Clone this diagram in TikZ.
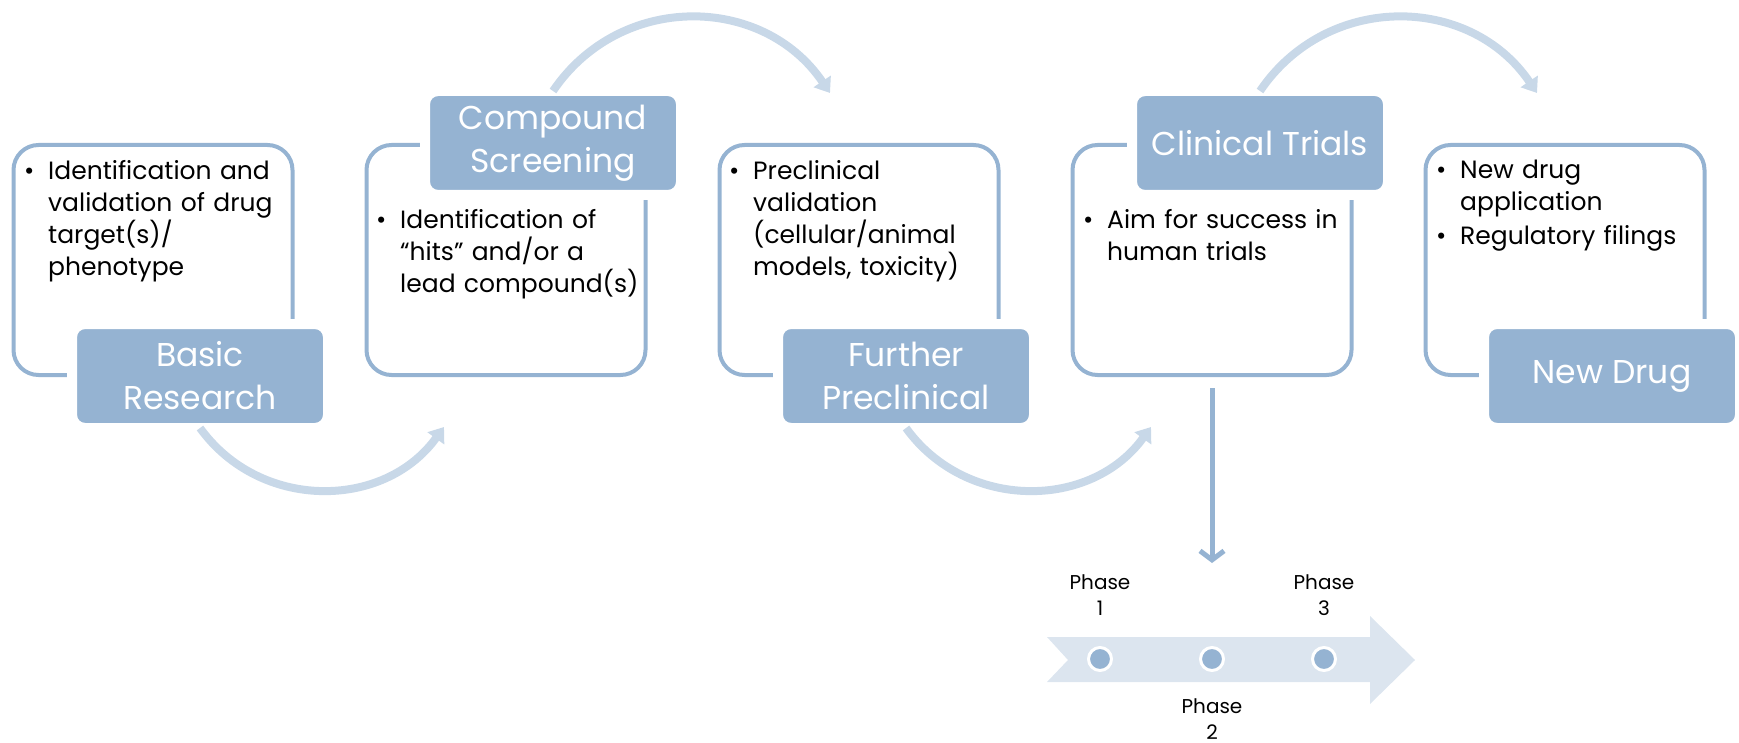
\documentclass[tikz,border=0pt]{standalone}
\usepackage{fontspec}
\setmainfont{Poppins}
\usetikzlibrary{arrows.meta,positioning}
\pgfdeclarelayer{bg}
\pgfsetlayers{bg,main}
\definecolor{stepblue}{HTML}{95B3D2}
\definecolor{flowblue}{HTML}{C8D8E8}
\definecolor{bandblue}{HTML}{DCE5EF}
\newcommand{\bitem}[1]{\noindent\makebox[24pt][l]{\textbullet}\parbox[t]{240pt}{\raggedright #1}}
\tikzset{
    card/.style={rectangle, draw=stepblue, line width=4pt, rounded corners=25pt,
        minimum width=279pt, minimum height=230pt}
}
\tikzset{
    tag/.style={rectangle, fill=stepblue, draw=white, line width=10pt, rounded corners=13pt,
        minimum width=256pt, minimum height=104pt, outer sep=0pt, text=white, align=center,
        font=\fontsize{33}{43}\selectfont}
}
\tikzset{
    notes/.style={anchor=north west, inner sep=0pt, text width=265pt, align=left,
        font=\fontsize{25}{32}\selectfont},
    flow/.style={draw=flowblue, line width=8pt, -{Triangle[width=20pt,length=14pt]}},
    phase/.style={circle, fill=stepblue, draw=white, line width=3pt, minimum size=23pt, inner sep=0pt},
    phaselbl/.style={align=center, inner sep=0pt, font=\fontsize{20}{26}\selectfont}
}

\begin{document}
\begin{tikzpicture}[x=1pt, y=-1pt]
        \useasboundingbox (0,0) rectangle (1739,743);
        \begin{pgfonlayer}{bg}
                \node[card] (c1) at (153,260) {};
                \node[card] (c2) at (506,260) {};
                \node[card] (c3) at (859,260) {};
                \node[card] (c4) at (1212,260) {};
                \node[card] (c5) at (1565,260) {};
                \fill[bandblue] (1047,637) -- (1370,637) -- (1370,616) -- (1415,660) -- (1370,704)
                        -- (1370,682) -- (1047,682) -- (1068,660) -- cycle;
        \end{pgfonlayer}
        \node[tag] (t1) at (200,376) {Basic\\Research};
        \node[tag] (t2) at (553,143) {Compound\\Screening};
        \node[tag] (t3) at (906,376) {Further\\Preclinical};
        \node[tag] (t4) at (1260,143) {Clinical Trials};
        \node[tag] (t5) at (1612,376) {New Drug};
        \node[notes] (n1) at (24,160) {\bitem{Identification and\newline validation of drug\newline target(s)/\newline phenotype}};
        \node[notes] (n2) at (376,209) {\bitem{Identification of\newline “hits” and/or a\newline lead compound(s)}};
        \node[notes] (n3) at (729,160) {\bitem{Preclinical\newline validation\newline (cellular/animal\newline models, toxicity)}};
        \node[notes] (n4) at (1083,209) {\bitem{Aim for success in\newline human trials}};
        \node[notes] (n5) at (1436,160) {\bitem{New drug\newline application}\par\vspace{7pt}\bitem{Regulatory filings}};
        \node[phase] (p1) at (1100,659) {};
        \node[phase] (p2) at (1212,659) {};
        \node[phase] (p3) at (1324,659) {};
        \node[phaselbl, above=30pt of p1] (l1) {Phase\\1};
        \node[phaselbl, below=26pt of p2] (l2) {Phase\\2};
        \node[phaselbl, above=30pt of p3] (l3) {Phase\\3};
        \coordinate (a1) at (444,427);
        \coordinate (a2) at (830,93);
        \coordinate (a3) at (1151,427);
        \coordinate (a4) at (1537,93);
        \coordinate (a5) at (1212,563);
        \draw[flow] (t1.south) .. controls (260,511) and (384,510) .. (a1);
        \draw[flow] (t2.north) .. controls (620,-8) and (763,-6) .. (a2);
        \draw[flow] (t3.south) .. controls (966,511) and (1091,510) .. (a3);
        \draw[flow] (t4.north) .. controls (1327,-8) and (1470,-6) .. (a4);
        \draw[stepblue, line width=5pt, shorten <=11pt, -{Straight Barb[length=9pt,width=24pt]}] (c4.south) -- (a5);
\end{tikzpicture}
\end{document}
